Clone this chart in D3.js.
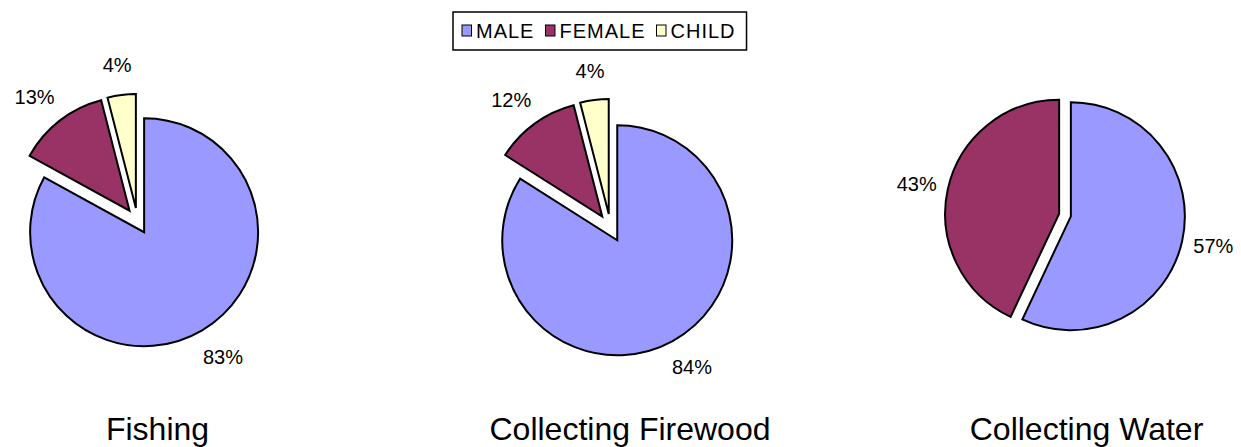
<!DOCTYPE html>
<html>
<head>
<meta charset="utf-8">
<script src="https://cdn.jsdelivr.net/npm/d3@7"></script>
<style>
  html, body { margin: 0; padding: 0; background: #fff; }
  svg { display: block; font-family: Arial, "Liberation Sans", sans-serif; }
</style>
</head>
<body>
<svg id="chart" width="1241" height="447"></svg>
<script>
// Share of each activity done by men, women and children (percent)
const categories = ["MALE", "FEMALE", "CHILD"];
const activities = ["Fishing", "Collecting Firewood", "Collecting Water"];
const fishing = [83, 13, 4];
const firewood = [84, 12, 4];
const water = [57, 43, 0];
const seriesValues = [fishing, firewood, water];

const colors = d3.scaleOrdinal()
  .domain(categories)
  .range(["#9999ff", "#993366", "#ffffcc"]);

// Layout of the three pie panels
const panels = [
  { cx: 137.5, cy: 221, r: 114, explode: 13, labelGap: 21, titleX: 157.5 },
  { cx: 610.5, cy: 228, r: 115, explode: 14, labelGap: 20, titleX: 630 },
  { cx: 1065, cy: 215, r: 114, explode: 6, labelGap: 12, titleX: 1086.5 }
];

const svg = d3.select("#chart");

const pie = d3.pie()
  .sort(null)
  .value(d => d.value)
  .startAngle(0)
  .endAngle(2 * Math.PI);

activities.forEach((name, i) => {
  const p = panels[i];
  const data = categories.map((c, j) => ({ cat: c, value: seriesValues[i][j] }))
    .filter(d => d.value > 0);
  const arcs = pie(data);
  const arc = d3.arc().innerRadius(0).outerRadius(p.r);

  const g = svg.append("g").attr("transform", `translate(${p.cx},${p.cy})`);

  arcs.forEach(a => {
    const mid = (a.startAngle + a.endAngle) / 2;
    const ux = Math.sin(mid), uy = -Math.cos(mid);
    const ox = ux * p.explode, oy = uy * p.explode;

    g.append("path")
      .attr("d", arc(a))
      .attr("transform", `translate(${ox},${oy})`)
      .attr("fill", colors(a.data.cat))
      .attr("stroke", "#000")
      .attr("stroke-width", 2)
      .attr("stroke-linejoin", "miter");

    // Percentage label just outside the arc, pushed away along the slice direction
    const px = ox + ux * (p.r + p.labelGap);
    const py = oy + uy * (p.r + p.labelGap);
    const t = g.append("text")
      .attr("font-size", 20)
      .attr("fill", "#000")
      .attr("text-anchor", "middle")
      .text(Math.round(a.data.value) + "%");
    const w = t.node().getComputedTextLength();
    const h = 19;
    t.attr("x", px + ux * w / 2)
     .attr("y", py + uy * h / 2)
     .attr("dy", "0.36em");
  });

  svg.append("text")
    .attr("x", p.titleX)
    .attr("y", 440)
    .attr("text-anchor", "middle")
    .attr("font-size", 32)
    .attr("fill", "#000")
    .text(name);
});

// Legend: swatch + label laid out in a row inside a bordered box
const legend = svg.append("g").attr("transform", "translate(453,12)");
const legendH = 38;
const items = legend.selectAll("g.item").data(categories).enter()
  .append("g").attr("class", "item");
let x = 9;
items.each(function(c) {
  const it = d3.select(this);
  it.append("rect")
    .attr("x", x).attr("y", 13)
    .attr("width", 9.5).attr("height", 11)
    .attr("fill", colors(c))
    .attr("stroke", "#000").attr("stroke-width", 1);
  const t = it.append("text")
    .attr("x", x + 14)
    .attr("y", 25.5)
    .attr("font-size", 20)
    .attr("letter-spacing", 1)
    .attr("fill", "#000")
    .text(c);
  x += 14 + t.node().getComputedTextLength() + 11;
});
legend.insert("rect", ":first-child")
  .attr("x", 0).attr("y", 0)
  .attr("width", x).attr("height", legendH)
  .attr("fill", "#fff")
  .attr("stroke", "#000").attr("stroke-width", 1.5);
</script>
</body>
</html>
